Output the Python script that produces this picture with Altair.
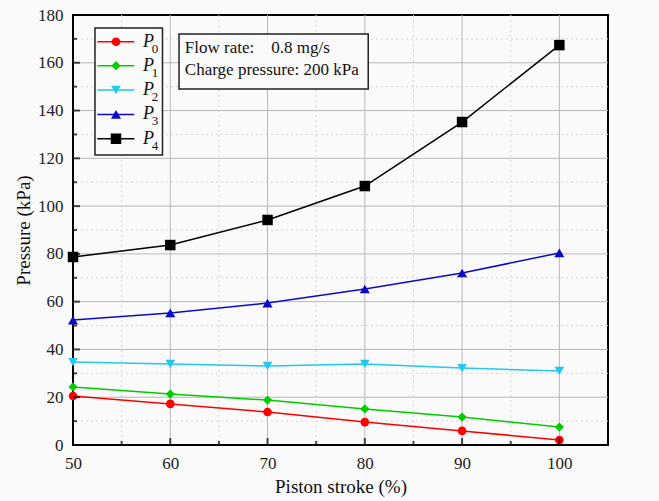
import altair as alt
import pandas as pd

# ---- data ----
stroke = [50, 60, 70, 80, 90, 100]
p0 = [20.5, 17.2, 13.8, 9.6, 5.9, 2.1]
p1 = [24.3, 21.3, 18.8, 15.1, 11.7, 7.5]
p2 = [34.7, 33.9, 33.1, 33.9, 32.2, 31.0]
p3 = [52.3, 55.3, 59.4, 65.3, 72.0, 80.4]
p4 = [78.7, 83.7, 94.2, 108.4, 135.2, 167.4]
series = ["P0", "P1", "P2", "P3", "P4"]
subs = ["0", "1", "2", "3", "4"]
colors = ["#ff0000", "#00cc00", "#22c8ee", "#0a0ac8", "#000000"]
shapes = ["circle", "diamond", "triangle-down", "triangle-up", "square"]
marker_sizes = [75, 110, 85, 85, 60]

x_ticks = [50, 60, 70, 80, 90, 100]
x_minor = [55, 65, 75, 85, 95]
y_ticks = [0, 20, 40, 60, 80, 100, 120, 140, 160, 180]
y_minor = [10, 30, 50, 70, 90, 110, 130, 150, 170]
info_lines = ["Flow rate:\u00a0\u00a0\u00a0\u00a00.8 mg/s", "Charge pressure: 200 kPa"]

FONT = "Liberation Serif"
BG = "#fafafa"

rows = []
for name, vals in zip(series, [p0, p1, p2, p3, p4]):
    for xv, yv in zip(stroke, vals):
        rows.append({"s": name, "x": xv, "y": yv})
df = pd.DataFrame(rows)

xs = alt.Scale(domain=[50, 105], nice=False, zero=False)
ys = alt.Scale(domain=[0, 180], nice=False, zero=False)
col = alt.Color("s:N", scale=alt.Scale(domain=series, range=colors), legend=None)
shp = alt.Shape("s:N", scale=alt.Scale(domain=series, range=shapes), legend=None)
siz = alt.Size("s:N", scale=alt.Scale(domain=series, range=marker_sizes), legend=None)

xaxis = alt.Axis(values=x_ticks, title="Piston stroke (%)", labelPadding=10, titlePadding=6,
                 labelFont=FONT, titleFont=FONT)
yaxis = alt.Axis(values=y_ticks, title="Pressure (kPa)", labelPadding=10, titlePadding=4,
                 labelFont=FONT, titleFont=FONT)


def X(f):
    return alt.X(f, scale=xs, axis=xaxis)


def Y(f):
    return alt.Y(f, scale=ys, axis=yaxis)


# grid
gx_major = alt.Chart(pd.DataFrame({"v": x_ticks[1:]})).mark_rule(color="#b8b8b8", strokeWidth=1).encode(x=X("v:Q"))
gx_minor = alt.Chart(pd.DataFrame({"v": x_minor})).mark_rule(color="#d4d4d4", strokeWidth=1, strokeDash=[2, 3]).encode(x=X("v:Q"))
gy_major = alt.Chart(pd.DataFrame({"v": y_ticks[1:-1]})).mark_rule(color="#b8b8b8", strokeWidth=1).encode(y=Y("v:Q"))
gy_minor = alt.Chart(pd.DataFrame({"v": y_minor})).mark_rule(color="#d4d4d4", strokeWidth=1, strokeDash=[2, 3]).encode(y=Y("v:Q"))

# inward ticks
tx_major = alt.Chart(pd.DataFrame({"v": x_ticks})).mark_tick(color="black", thickness=2, size=7, orient="vertical").encode(
    x=X("v:Q"), y=alt.value(426.5))
tx_minor = alt.Chart(pd.DataFrame({"v": x_minor})).mark_tick(color="black", thickness=2, size=4, orient="vertical").encode(
    x=X("v:Q"), y=alt.value(428))
ty_major = alt.Chart(pd.DataFrame({"v": y_ticks})).mark_tick(color="black", thickness=2, size=7, orient="horizontal").encode(
    y=Y("v:Q"), x=alt.value(3.5))
ty_minor = alt.Chart(pd.DataFrame({"v": y_minor})).mark_tick(color="black", thickness=2, size=4, orient="horizontal").encode(
    y=Y("v:Q"), x=alt.value(2))

lines = alt.Chart(df).mark_line(strokeWidth=1.5, clip=False).encode(
    x=X("x:Q"), y=Y("y:Q"), color=col, detail="s:N")
points = alt.Chart(df).mark_point(filled=True, opacity=1).encode(
    x=X("x:Q"), y=Y("y:Q"), color=col, shape=shp, size=siz)

# legend (drawn in data coordinates)
leg_y = [168.8, 158.8, 148.6, 138.4, 128.2]
leg = pd.DataFrame({"s": series, "sub": subs, "y": leg_y, "x1": 52.5, "x2": 56.3, "xm": 54.42, "xt": 57.2, "xs": 58.1})
legbox = alt.Chart(pd.DataFrame({"a": [52.26], "b": [59.2], "c": [174.6], "d": [121.4]})).mark_rect(
    fill=BG, stroke="#222", strokeWidth=1.5).encode(x=X("a:Q"), x2="b:Q", y=Y("c:Q"), y2="d:Q")
leg_lines = alt.Chart(leg).mark_rule(strokeWidth=1.5).encode(
    x=X("x1:Q"), x2="x2:Q", y=Y("y:Q"), color=col)
leg_pts = alt.Chart(leg).mark_point(filled=True, opacity=1).encode(
    x=X("xm:Q"), y=Y("y:Q"), color=col, shape=shp, size=siz)
leg_P = alt.Chart(leg).mark_text(text="P", font=FONT, fontSize=18, fontStyle="italic", align="left",
                                 baseline="middle", color="#111").encode(x=X("xt:Q"), y=Y("y:Q"))
leg_sub = alt.Chart(leg).mark_text(font=FONT, fontSize=13, align="left", baseline="middle", dy=7,
                                   color="#111").encode(x=X("xs:Q"), y=Y("y:Q"), text="sub:N")

# info box
infobox = alt.Chart(pd.DataFrame({"a": [60.9], "b": [80.35], "c": [172.05], "d": [149.0]})).mark_rect(
    fill=BG, stroke="#222", strokeWidth=1.5).encode(x=X("a:Q"), x2="b:Q", y=Y("c:Q"), y2="d:Q")
info = alt.Chart(pd.DataFrame({"t": info_lines, "x": [61.5, 61.5], "y": [166.2, 157.0]})).mark_text(
    font=FONT, fontSize=17, align="left", baseline="middle", color="#111").encode(
    x=X("x:Q"), y=Y("y:Q"), text="t:N")

chart = alt.layer(
    gx_minor, gy_minor, gx_major, gy_major,
    lines, points, tx_major, tx_minor, ty_major, ty_minor,
    legbox, leg_lines, leg_pts, leg_P, leg_sub, infobox, info
).properties(
    width=535, height=430,
    autosize=alt.AutoSizeParams(type="none"),
    padding={"left": 73, "top": 15, "right": 51, "bottom": 56},
    background=BG,
).configure(font=FONT).configure_view(stroke="black", strokeWidth=2).configure_axis(
    grid=False, ticks=False, tickSize=0, domain=False, labelFlush=False,
    labelFont=FONT, labelFontSize=17, labelColor="#222",
    titleFont=FONT, titleFontSize=19, titleFontWeight="normal", titleColor="#111",
)

chart.save("out.html", embed_options={"renderer": "svg", "actions": False})
